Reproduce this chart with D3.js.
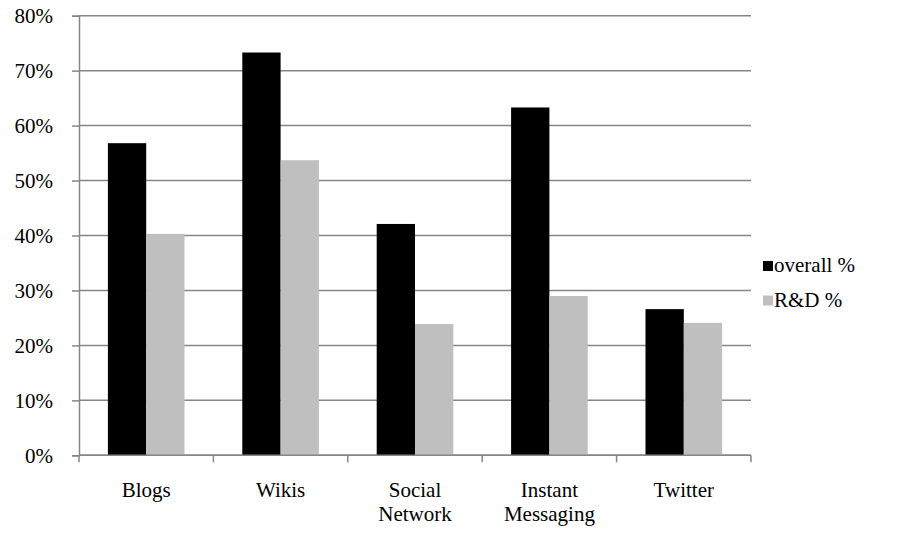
<!DOCTYPE html>
<html>
<head>
<meta charset="utf-8">
<script src="https://cdn.jsdelivr.net/npm/d3@7"></script>
<style>
  html, body { margin: 0; padding: 0; background: #fff; }
</style>
</head>
<body>
<svg id="chart" width="901" height="535"></svg>
<script>
// Tool adoption by category: overall vs. R&D respondents
const categories = [["Blogs"], ["Wikis"], ["Social", "Network"], ["Instant", "Messaging"], ["Twitter"]];
const seriesNames = ["overall %", "R&D %"];
const overall = [56.8, 73.3, 42.1, 63.3, 26.6];
const rnd = [40.3, 53.7, 23.9, 29.0, 24.1];
const yTicks = [0, 10, 20, 30, 40, 50, 60, 70, 80];
const colors = ["#000000", "#bfbfbf"];

const FONT = "'Liberation Serif', 'DejaVu Serif', 'Noto Serif', serif";
const svg = d3.select("#chart");
const margin = { left: 79, right: 150, top: 15.7, bottom: 79.7 };
const W = 901, H = 535;
const gridColor = "#868686";

const x = d3.scaleBand()
  .domain(d3.range(categories.length))
  .range([margin.left, W - margin.right])
  .paddingInner(0.43)
  .paddingOuter(0.215);
const xBand = d3.scaleBand()
  .domain(d3.range(categories.length))
  .range([margin.left, W - margin.right]);
const y = d3.scaleLinear().domain([0, 80]).range([H - margin.bottom, margin.top]);

// horizontal gridlines
svg.append("g")
  .selectAll("line")
  .data(yTicks)
  .join("line")
  .attr("x1", margin.left)
  .attr("x2", W - margin.right)
  .attr("y1", d => y(d))
  .attr("y2", d => y(d))
  .attr("stroke", gridColor)
  .attr("stroke-width", 1.5);

// bars
const series = [overall, rnd];
const barW = x.bandwidth() / 2;
series.forEach((vals, s) => {
  svg.append("g")
    .selectAll("rect")
    .data(vals)
    .join("rect")
    .attr("x", (d, i) => x(i) + s * barW)
    .attr("width", barW)
    .attr("y", d => y(d))
    .attr("height", d => y(0) - y(d))
    .attr("fill", colors[s]);
});

// y axis
const yAxis = d3.axisLeft(y)
  .tickValues(yTicks)
  .tickFormat(d => d + "%")
  .tickSize(7)
  .tickPadding(19);
const gy = svg.append("g")
  .attr("transform", `translate(${margin.left},0)`)
  .call(yAxis);
gy.select(".domain").attr("stroke", gridColor).attr("stroke-width", 1.5);
gy.selectAll(".tick line").attr("stroke", gridColor).attr("stroke-width", 1.5);
gy.selectAll(".tick text")
  .style("font-family", FONT)
  .style("font-size", "21px")
  .attr("fill", "#000");

// x axis baseline and category ticks
const xTicks = d3.range(categories.length + 1).map(i =>
  i < categories.length ? xBand(i) : xBand(categories.length - 1) + xBand.bandwidth());
svg.append("line")
  .attr("x1", margin.left).attr("x2", W - margin.right)
  .attr("y1", y(0)).attr("y2", y(0))
  .attr("stroke", gridColor).attr("stroke-width", 1.5);
svg.append("g")
  .selectAll("line")
  .data(xTicks)
  .join("line")
  .attr("x1", d => d).attr("x2", d => d)
  .attr("y1", y(0)).attr("y2", y(0) + 7)
  .attr("stroke", gridColor).attr("stroke-width", 1.5);

// category labels
const labels = svg.append("g")
  .selectAll("text")
  .data(categories)
  .join("text")
  .style("font-family", FONT)
  .style("font-size", "21px")
  .attr("text-anchor", "middle")
  .attr("x", (d, i) => xBand(i) + xBand.bandwidth() / 2)
  .attr("y", 497);
labels.selectAll("tspan")
  .data(d => d)
  .join("tspan")
  .attr("x", function () { return d3.select(this.parentNode).attr("x"); })
  .attr("dy", (d, i) => i === 0 ? 0 : 24)
  .text(d => d);

// legend
const legend = svg.append("g")
  .attr("transform", "translate(763,261)");
seriesNames.forEach((name, i) => {
  const row = legend.append("g").attr("transform", `translate(0,${i * 34.5})`);
  row.append("rect").attr("width", 10).attr("height", 10).attr("fill", colors[i]);
  row.append("text")
    .style("font-family", FONT)
    .style("font-size", "21px")
    .attr("x", 11)
    .attr("y", 11)
    .text(name);
});
</script>
</body>
</html>
